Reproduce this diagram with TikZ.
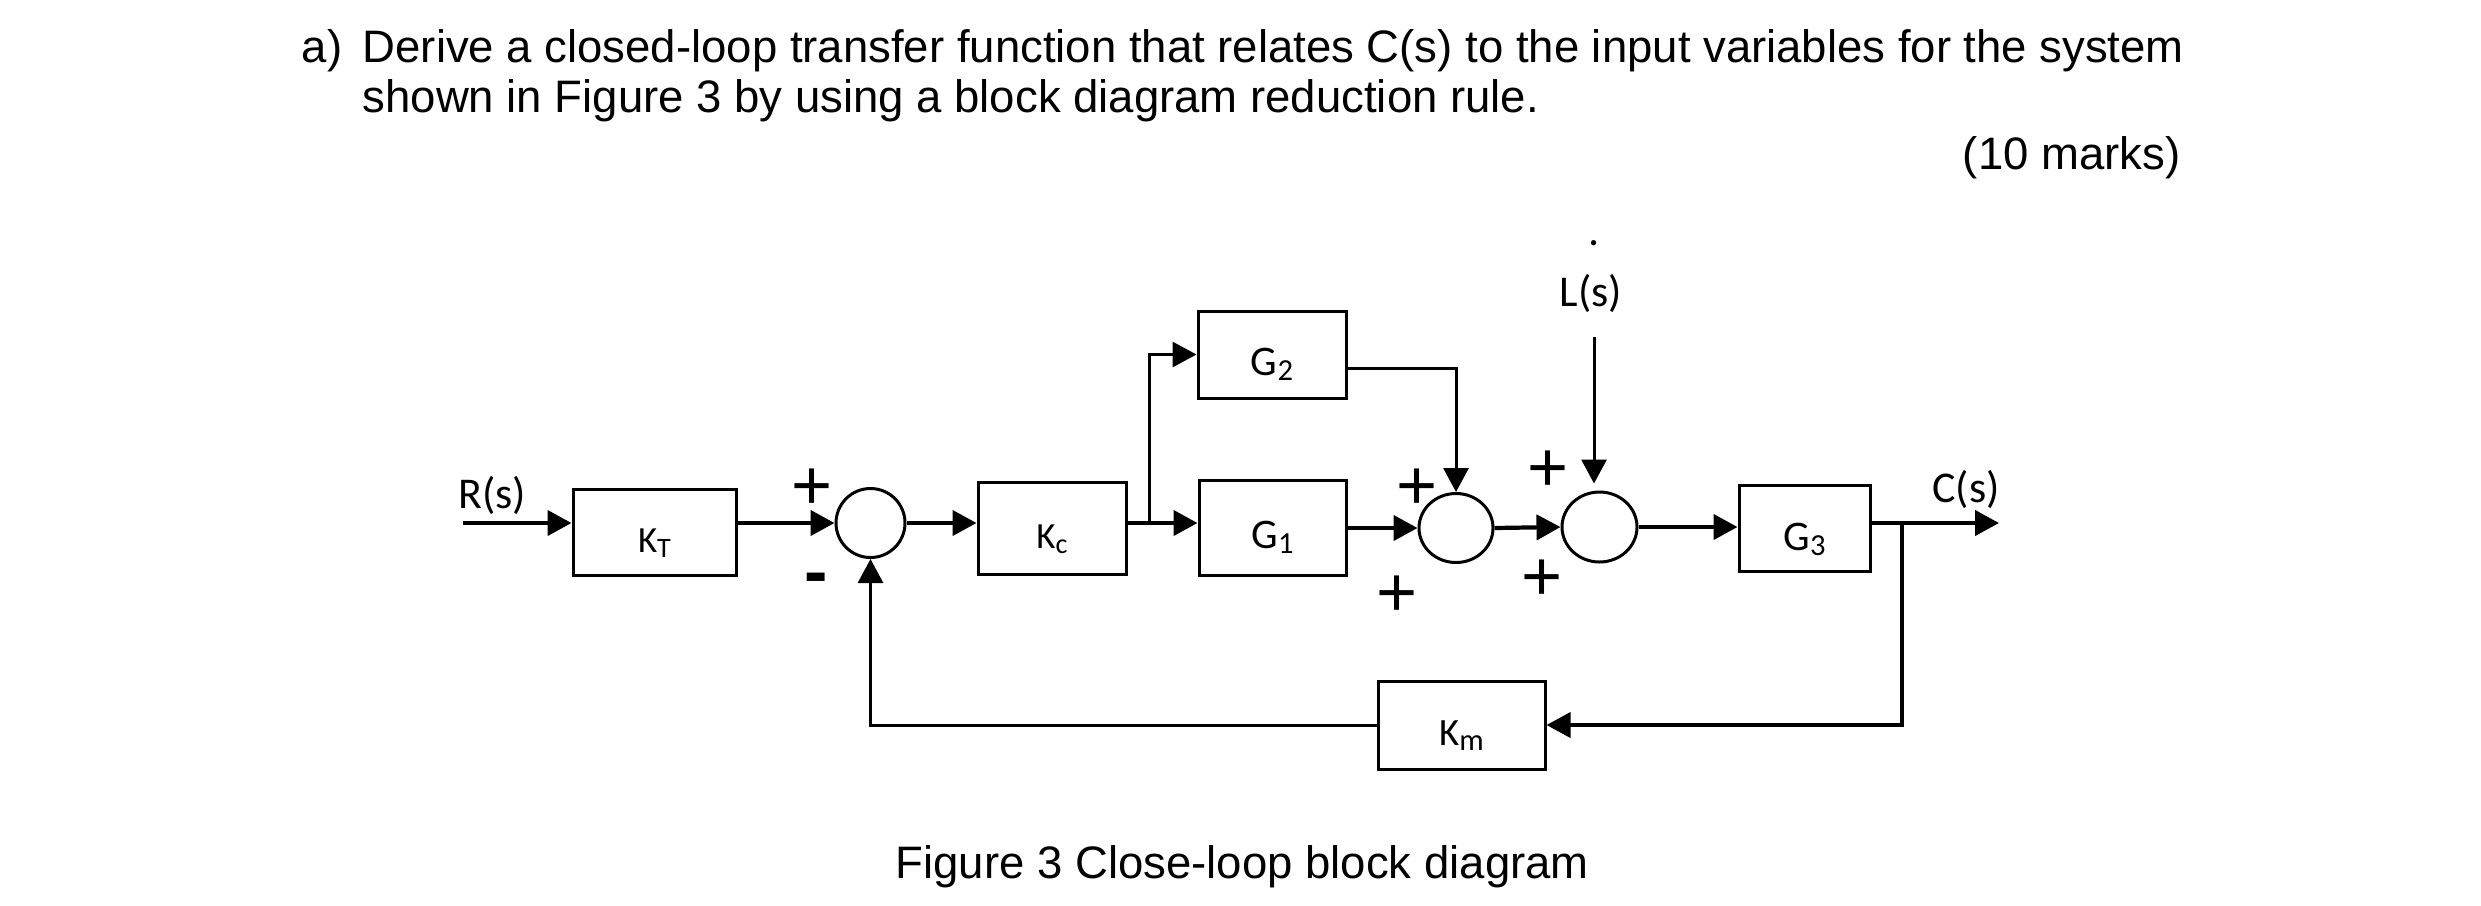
\documentclass[tikz,border=0pt]{standalone}
\usepackage{fontspec}
\setmainfont{Liberation Sans}
\newfontfamily\calibri{Carlito}
\usetikzlibrary{arrows.meta,shapes.geometric}
\newcommand\sbs[1]{\raisebox{-0.5mm}{\fontsize{8}{9}\selectfont #1}}
\newcommand\sbg[1]{\raisebox{-0.5mm}{\fontsize{8.7}{9}\selectfont #1}}
\begin{document}
\begin{tikzpicture}[x=0.1mm,y=-0.1mm,
  blk/.style={draw, line width=0.85pt, inner sep=0pt},
  sumc/.style={draw, ellipse, line width=0.85pt, inner sep=0pt},
  lbl/.style={font=\calibri\fontsize{10.5}{12}\selectfont, inner sep=0pt, anchor=base},
  glbl/.style={font=\calibri\fontsize{12}{13}\selectfont, inner sep=0pt, anchor=base},
  sig/.style={font=\calibri\fontsize{12.5}{14}\selectfont, inner sep=0pt, anchor=base},
  sgn/.style={font=\fontsize{20}{22}\selectfont, inner sep=0pt, anchor=base},
  txt/.style={font=\fontsize{12.95}{15}\selectfont, inner sep=0pt, anchor=base west},
  tip/.tip={Triangle[length=2.4mm,width=2.5mm]},
  thk/.style={line width=1.2pt, -tip},
  thn/.style={line width=0.85pt, -tip},
]
\useasboundingbox (0,0) rectangle (2481,905);
% question text
\node[txt] (qa) at (301,62) {a)};
\node[txt] (q1) at (362,62) {Derive a closed-loop transfer function that relates C(s) to the input variables for the system};
\node[txt] (q2) at (362,112) {shown in Figure 3 by using a block diagram reduction rule.};
\node[font=\fontsize{12.95}{15}\selectfont, inner sep=0pt, anchor=base east] (marks) at (2181,169) {(10 marks)};
\node[txt] (cap) at (895,878) {Figure 3 Close-loop block diagram};
% blocks
\node[blk, minimum width=16.3mm, minimum height=8.6mm] (KT) at (654.5,532) {};
\node[blk, minimum width=14.8mm, minimum height=9.2mm] (Kc) at (1052,528.5) {};
\node[blk, minimum width=14.8mm, minimum height=8.7mm] (G2) at (1272,354.5) {};
\node[blk, minimum width=14.7mm, minimum height=9.5mm] (G1) at (1272.5,527.5) {};
\node[blk, minimum width=13.1mm, minimum height=8.6mm] (G3) at (1804.5,528) {};
\node[blk, minimum width=16.7mm, minimum height=8.8mm] (Km) at (1461.5,725) {};
% summing junctions
\node[sumc, minimum width=6.9mm, minimum height=6.9mm] (s1) at (870.5,523) {};
\node[sumc, minimum width=7.4mm, minimum height=6.9mm] (s2) at (1456,528) {};
\node[sumc, minimum width=7.5mm, minimum height=7.0mm] (s3) at (1599.5,527) {};
% block labels
\node[lbl] (tKT) at ([yshift=-2mm]KT.center) {K\sbs{T}};
\node[lbl] (tKc) at ([yshift=-2mm]Kc.center) {K\sbs{c}};
\node[glbl] (tG2) at ([yshift=-2.1mm]G2.center) {G\sbg{2}};
\node[glbl] (tG1) at ([yshift=-2.1mm]G1.center) {G\sbg{1}};
\node[glbl] (tG3) at ([yshift=-2.2mm]G3.center) {G\sbg{3}};
\node[lbl, font=\calibri\fontsize{11}{12}\selectfont] (tKm) at ([yshift=-2mm]Km.center) {K\sbg{m}};
% signal labels
\node[sig] (R) at (492,508) {R(s)};
\node[sig] (C) at (1966,502) {C(s)};
\node[sig] (L) at (1591,306) {L(s)};
\node[sig] (dot) at (1594,245) {.};
% signs
\node[sgn] (p1) at (812.5,509) {+};
\node[sgn, font=\bfseries\fontsize{20}{22}\selectfont] (m1) at (816,595) {-};
\node[sgn] (p2) at (1417.5,509) {+};
\node[sgn] (p3) at (1397.5,616) {+};
\node[sgn] (p4) at (1547.5,491) {+};
\node[sgn] (p5) at (1541.5,600) {+};
% connectors
\coordinate (Rin) at (463,523);
\coordinate (br) at (1149,523);
\coordinate (Ltop) at (1594,337);
\coordinate (Cout) at (1999,523);
\coordinate (br2) at (1902,523);
\draw[thk] (Rin) -- (Rin -| KT.west);
\draw[thk] (KT.east |- s1) -- (s1.west);
\draw[thk] (s1.east) -- (s1 -| Kc.west);
\draw[line width=1.2pt] (s1 -| Kc.east) -- (br);
\draw[thk] (br) -- (br -| G1.west);
\draw[thn] (br) |- (G2.west);
\draw[thn] ([yshift=-1.35mm]G2.east) -| (s2.north);
\draw[thk] (G1.east |- s2) -- (s2.west);
\draw[thk] (s2.east) -- (s3.west);
\draw[thn, shorten >=0.7mm] (Ltop) -- (Ltop |- s3.north);
\draw[thk] (s3.east) -- (s3 -| G3.west);
\draw[thk] (G3.east |- Cout) -- (Cout);
\draw[line width=1.1pt, -tip] (br2) |- (Km.east);
\draw[thn] (Km.west) -| (s1.south);
\end{tikzpicture}
\end{document}
